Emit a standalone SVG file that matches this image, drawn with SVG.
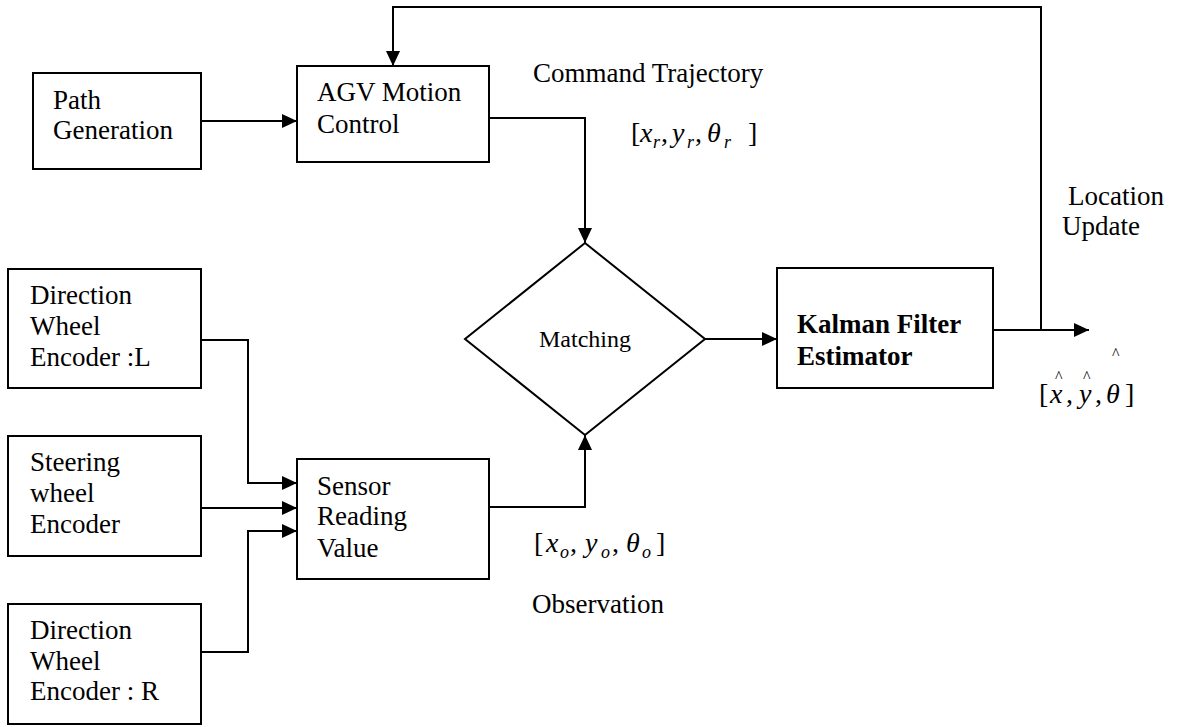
<svg xmlns="http://www.w3.org/2000/svg" width="1184" height="727" viewBox="0 0 1184 727">
  <style>
    .box { fill: #fff; stroke: #000; stroke-width: 2; }
    .wire { fill: none; stroke: #000; stroke-width: 2; }
  </style>
  <defs>
    <marker id="arrow" markerWidth="15" markerHeight="14" refX="15" refY="7" orient="auto" markerUnits="userSpaceOnUse">
      <path d="M0,0 L15,7 L0,14 Z" fill="#000"/>
    </marker>
  </defs>
  <rect width="1184" height="727" fill="#fff"/>

  <!-- connectors -->
  <g id="connectors">
    <path class="wire" d="M201,121 L297,121" marker-end="url(#arrow)"/>
    <path class="wire" d="M489,118 L585,118 L585,243" marker-end="url(#arrow)"/>
    <path class="wire" d="M705,339 L777,339" marker-end="url(#arrow)"/>
    <path class="wire" d="M993,330 L1089,330" marker-end="url(#arrow)"/>
    <path class="wire" d="M1041,330 L1041,7 L393,7 L393,66" marker-end="url(#arrow)"/>
    <path class="wire" d="M201,340 L248,340 L248,483 L297,483" marker-end="url(#arrow)"/>
    <path class="wire" d="M201,508 L297,508" marker-end="url(#arrow)"/>
    <path class="wire" d="M201,652 L248,652 L248,531 L297,531" marker-end="url(#arrow)"/>
    <path class="wire" d="M489,507 L585,507 L585,435" marker-end="url(#arrow)"/>
  </g>

  <g id="path-generation">
    <rect class="box" x="33" y="73" width="168" height="96"/>
    <text font-family="Liberation Serif, serif" font-size="27" x="53" y="109">Path</text>
    <text font-family="Liberation Serif, serif" font-size="27" x="53" y="139">Generation</text>
  </g>

  <g id="agv-motion-control">
    <rect class="box" x="297" y="66" width="192" height="96"/>
    <text font-family="Liberation Serif, serif" font-size="27" x="317" y="101">AGV Motion</text>
    <text font-family="Liberation Serif, serif" font-size="27" x="317" y="133">Control</text>
  </g>

  <g id="encoder-l">
    <rect class="box" x="8" y="269" width="193" height="119"/>
    <text font-family="Liberation Serif, serif" font-size="27" x="30" y="304">Direction</text>
    <text font-family="Liberation Serif, serif" font-size="27" x="30" y="335">Wheel</text>
    <text font-family="Liberation Serif, serif" font-size="27" x="30" y="366">Encoder :L</text>
  </g>

  <g id="steering-encoder">
    <rect class="box" x="8" y="436" width="193" height="120"/>
    <text font-family="Liberation Serif, serif" font-size="27" x="30" y="471">Steering</text>
    <text font-family="Liberation Serif, serif" font-size="27" x="30" y="502">wheel</text>
    <text font-family="Liberation Serif, serif" font-size="27" x="30" y="533">Encoder</text>
  </g>

  <g id="encoder-r">
    <rect class="box" x="8" y="604" width="193" height="120"/>
    <text font-family="Liberation Serif, serif" font-size="27" x="30" y="639">Direction</text>
    <text font-family="Liberation Serif, serif" font-size="27" x="30" y="670">Wheel</text>
    <text font-family="Liberation Serif, serif" font-size="27" x="30" y="700">Encoder : R</text>
  </g>

  <g id="sensor-reading">
    <rect class="box" x="297" y="459" width="192" height="120"/>
    <text font-family="Liberation Serif, serif" font-size="27" x="317" y="495">Sensor</text>
    <text font-family="Liberation Serif, serif" font-size="27" x="317" y="525">Reading</text>
    <text font-family="Liberation Serif, serif" font-size="27" x="317" y="557">Value</text>
  </g>

  <g id="matching">
    <polygon class="box" points="585,243 705,339 585,435 465,339"/>
    <text font-family="Liberation Serif, serif" font-size="24" x="585" y="347" text-anchor="middle">Matching</text>
  </g>

  <g id="kalman-filter">
    <rect class="box" x="777" y="268" width="216" height="120"/>
    <text font-family="Liberation Serif, serif" font-size="27" font-weight="bold" x="797" y="333">Kalman Filter</text>
    <text font-family="Liberation Serif, serif" font-size="27" font-weight="bold" x="797" y="365">Estimator</text>
  </g>

  <!-- edge labels -->
  <g id="labels">
    <text font-family="Liberation Serif, serif" font-size="27" x="533" y="82">Command Trajectory</text>
    <text font-family="Liberation Serif, serif" font-size="28" y="142"><tspan x="631">[</tspan><tspan font-style="italic" x="640">x</tspan><tspan font-style="italic" font-size="18" x="653" y="148">r</tspan><tspan x="661" y="142">,</tspan><tspan font-style="italic" x="672">y</tspan><tspan font-style="italic" font-size="18" x="687" y="148">r</tspan><tspan x="695" y="142">,</tspan><tspan font-style="italic" x="707">θ</tspan><tspan font-style="italic" font-size="18" x="724" y="148">r</tspan><tspan x="748" y="142">]</tspan></text>

    <text font-family="Liberation Serif, serif" font-size="28" y="552"><tspan x="534">[</tspan><tspan font-style="italic" x="546">x</tspan><tspan font-style="italic" font-size="18" x="560" y="558">o</tspan><tspan x="570" y="552">,</tspan><tspan font-style="italic" x="585">y</tspan><tspan font-style="italic" font-size="18" x="601" y="558">o</tspan><tspan x="612" y="552">,</tspan><tspan font-style="italic" x="626">θ</tspan><tspan font-style="italic" font-size="18" x="642" y="558">o</tspan><tspan x="656" y="552">]</tspan></text>
    <text font-family="Liberation Serif, serif" font-size="27" x="532" y="613">Observation</text>

    <text font-family="Liberation Serif, serif" font-size="27" x="1068" y="205">Location</text>
    <text font-family="Liberation Serif, serif" font-size="27" x="1062" y="235">Update</text>

    <text font-family="Liberation Serif, serif" font-size="28" y="403"><tspan x="1039">[</tspan><tspan font-style="italic" x="1050">x</tspan><tspan x="1066">,</tspan><tspan font-style="italic" x="1079">y</tspan><tspan x="1095">,</tspan><tspan font-style="italic" x="1106">θ</tspan><tspan x="1125">]</tspan></text>
    <!-- hats over the estimated quantities -->
    <text font-family="Liberation Serif, serif" font-size="16" y="382"><tspan x="1055">^</tspan><tspan x="1083">^</tspan><tspan x="1112" y="359">^</tspan></text>
  </g>
</svg>
